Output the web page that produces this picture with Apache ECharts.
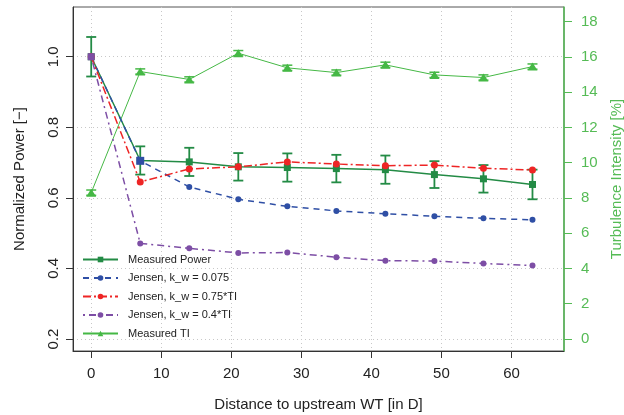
<!DOCTYPE html>
<html>
<head>
<meta charset="utf-8">
<script src="https://cdn.jsdelivr.net/npm/echarts@6/dist/echarts.min.js"></script>
<style>html,body{margin:0;padding:0;background:#fff}#c{width:624px;height:415px}</style>
</head>
<body>
<div id="c"></div>
<script>
// ---- data ----
const distances = [0, 7, 14, 21, 28, 35, 42, 49, 56, 63];
const measuredPower = [1.0, 0.706, 0.702, 0.688, 0.686, 0.683, 0.680, 0.666, 0.654, 0.638];
const powerErr = [0.056, 0.040, 0.040, 0.039, 0.040, 0.039, 0.040, 0.038, 0.039, 0.042];
const jensen0075 = [1.0, 0.705, 0.631, 0.596, 0.576, 0.563, 0.555, 0.548, 0.542, 0.538];
const jensen075TI = [1.0, 0.645, 0.682, 0.688, 0.702, 0.696, 0.691, 0.693, 0.684, 0.679];
const jensen04TI = [1.0, 0.471, 0.457, 0.444, 0.445, 0.432, 0.422, 0.421, 0.414, 0.408];
const measuredTI = [8.30, 15.17, 14.72, 16.21, 15.38, 15.11, 15.55, 14.98, 14.83, 15.45];
const tiErr = [0.15, 0.15, 0.15, 0.15, 0.15, 0.15, 0.15, 0.15, 0.15, 0.15];
const xTicks = [0, 10, 20, 30, 40, 50, 60];
const yLeftTicks = [0.2, 0.4, 0.6, 0.8, 1.0];
const yRightTicks = [0, 2, 4, 6, 8, 10, 12, 14, 16, 18];
const seriesNames = ['Measured Power', 'Jensen, k_w = 0.075', 'Jensen, k_w = 0.75*TI', 'Jensen, k_w = 0.4*TI', 'Measured TI'];

const cPower = '#238b45', cBlue = '#2f4fa5', cRed = '#ee2525', cPurple = '#7d4ea5', cTI = '#45b845', cAxisR = '#55bb55';
const FONT = '"Liberation Sans", Arial, sans-serif';

const pair = (ys) => distances.map((d, i) => [d, ys[i]]);
const errData = (ys, es) => distances.map((d, i) => [d, ys[i] - es[i], ys[i] + es[i]]);

function errRender(color, cap, lw) {
  return function (params, api) {
    const x = api.value(0);
    const p1 = api.coord([x, api.value(1)]);
    const p2 = api.coord([x, api.value(2)]);
    const st = { stroke: color, lineWidth: lw };
    return {
      type: 'group',
      children: [
        { type: 'line', shape: { x1: p1[0], y1: p1[1], x2: p2[0], y2: p2[1] }, style: st },
        { type: 'line', shape: { x1: p1[0] - cap, y1: p1[1], x2: p1[0] + cap, y2: p1[1] }, style: st },
        { type: 'line', shape: { x1: p2[0] - cap, y1: p2[1], x2: p2[0] + cap, y2: p2[1] }, style: st }
      ]
    };
  };
}

const chart = echarts.init(document.getElementById('c'), null, { renderer: 'canvas' });
chart.setOption({
  animation: false,
  textStyle: { fontFamily: FONT },
  grid: { left: 73, right: 60, top: 7, bottom: 64, containLabel: false, outerBoundsMode: 'none',
    show: true, borderColor: '#555', borderWidth: 1, backgroundColor: 'transparent' },
  legend: {
    orient: 'vertical', left: 77, top: 248, itemWidth: 35, itemHeight: 7, itemGap: 5.5,
    data: seriesNames,
    textStyle: { fontSize: 11, color: '#222', fontFamily: FONT, padding: [0, 0, 0, 5], lineHeight: 13 },
    selectedMode: false
  },
  xAxis: {
    type: 'value', min: -2.6, max: 67.5,
    name: 'Distance to upstream WT [in D]', nameLocation: 'middle', nameGap: 46,
    nameTextStyle: { fontSize: 15, color: '#222', fontFamily: FONT },
    axisLine: { show: true, onZero: false, lineStyle: { color: '#333', width: 1 } },
    axisTick: { show: true, length: 7, inside: false, customValues: xTicks, lineStyle: { color: '#333' } },
    axisLabel: { customValues: xTicks, fontSize: 15, color: '#222', margin: 15, fontFamily: FONT },
    splitLine: { show: true, lineStyle: { color: '#c8c8c8', type: [1, 3], width: 1 } }
  },
  yAxis: [
    {
      type: 'value', min: 0.166, max: 1.141, position: 'left',
      name: 'Normalized Power [\u2212]', nameLocation: 'middle', nameGap: 46, nameRotate: 90,
      nameTextStyle: { fontSize: 15, color: '#222', fontFamily: FONT },
      axisLine: { show: true, onZero: false, lineStyle: { color: '#333', width: 1 } },
      axisTick: { show: true, length: 7, customValues: yLeftTicks, lineStyle: { color: '#333' } },
      axisLabel: { customValues: yLeftTicks, fontSize: 15, color: '#222', rotate: 90, margin: 12, fontFamily: FONT,
        formatter: (v) => v.toFixed(1) },
      splitLine: { show: true, lineStyle: { color: '#c8c8c8', type: [1, 3], width: 1 } }
    },
    {
      type: 'value', min: -0.68, max: 18.83, position: 'right',
      name: 'Turbulence Intensity [%]', nameLocation: 'middle', nameGap: 45, nameRotate: 90,
      nameTextStyle: { fontSize: 15, color: cAxisR, fontFamily: FONT },
      axisLine: { show: true, onZero: false, lineStyle: { color: cAxisR, width: 1.5 } },
      axisTick: { show: true, length: 8, customValues: yRightTicks, lineStyle: { color: cAxisR } },
      axisLabel: { customValues: yRightTicks, fontSize: 15, color: cAxisR, margin: 17, fontFamily: FONT },
      splitLine: { show: false }
    }
  ],
  series: [
    {
      type: 'custom', name: 'powerErr', xAxisIndex: 0, yAxisIndex: 0, silent: true,
      renderItem: errRender(cPower, 5, 1.8), data: errData(measuredPower, powerErr), z: 2
    },
    {
      type: 'custom', name: 'tiErr', xAxisIndex: 0, yAxisIndex: 1, silent: true,
      renderItem: errRender(cTI, 5, 1.5), data: errData(measuredTI, tiErr), z: 2
    },
    {
      type: 'line', name: seriesNames[0], yAxisIndex: 0, data: pair(measuredPower),
      symbol: 'rect', symbolSize: 7, lineStyle: { color: cPower, width: 1.5 }, itemStyle: { color: cPower }, z: 3
    },
    {
      type: 'line', name: seriesNames[4], yAxisIndex: 1, data: pair(measuredTI),
      symbol: 'triangle', symbolSize: [10, 8], lineStyle: { color: cTI, width: 1 }, itemStyle: { color: cTI }, z: 3
    },
    {
      type: 'line', name: seriesNames[1], yAxisIndex: 0,
      data: pair(jensen0075).map((p, i) => i === 1 ? { value: p, symbol: 'rect', symbolSize: 8 } : p),
      symbol: 'circle', symbolSize: 6, lineStyle: { color: cBlue, width: 1.5, type: [6, 5] }, itemStyle: { color: cBlue }, z: 4
    },
    {
      type: 'line', name: seriesNames[2], yAxisIndex: 0, data: pair(jensen075TI),
      symbol: 'circle', symbolSize: 7, lineStyle: { color: cRed, width: 1.5, type: [8, 3, 2, 3] }, itemStyle: { color: cRed }, z: 5
    },
    {
      type: 'line', name: seriesNames[3], yAxisIndex: 0,
      data: pair(jensen04TI).map((p, i) => i === 0 ? { value: p, symbol: 'rect', symbolSize: 7 } : p),
      symbol: 'circle', symbolSize: 6, lineStyle: { color: cPurple, width: 1.5, type: [2, 4, 7, 4] }, itemStyle: { color: cPurple }, z: 6
    }
  ]
});
</script>
</body>
</html>
